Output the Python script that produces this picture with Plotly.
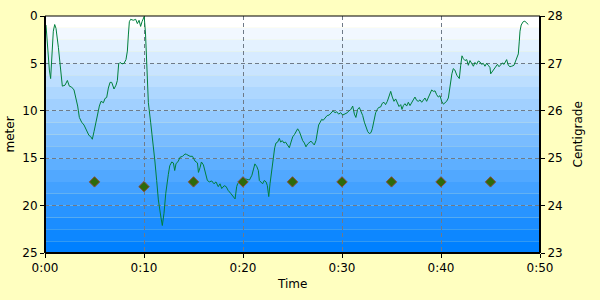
import plotly.graph_objects as go

# ---- data ----
time_min = [0.1, 0.23, 0.44, 0.57, 0.7, 0.84, 0.98, 1.11, 1.35, 1.58, 1.75, 2.02, 2.26, 2.46, 2.69, 2.93,
            3.13, 3.3, 3.47, 3.7, 3.94, 4.2, 4.44, 4.6, 4.78, 4.95, 5.15, 5.32, 5.49, 5.66, 5.9, 6.06,
            6.23, 6.4, 6.57, 6.74, 6.97, 7.17, 7.31, 7.44, 7.58, 7.78, 7.98, 8.18, 8.32, 8.42, 8.52, 8.65,
            8.92, 9.16, 9.33, 9.5, 9.66, 9.8, 9.93, 10.02, 10.15, 10.27, 10.44, 10.67, 10.94, 11.1, 11.28,
            11.45, 11.69, 11.85, 12.02, 12.2, 12.46, 12.6, 12.8, 12.97, 13.1, 13.23, 13.47, 13.64, 13.9,
            14.14, 14.3, 14.65, 14.9, 15.15, 15.4, 15.5, 15.66, 15.8, 16.0, 16.2, 16.4, 16.6, 16.84, 17.07,
            17.27, 17.5, 17.68, 17.85, 18.1, 18.3, 18.5, 18.75, 19.02, 19.2, 19.36, 19.46, 19.63, 19.87,
            20.0, 20.3, 20.5, 20.65, 20.9, 21.04, 21.2, 21.4, 21.55, 21.65, 21.8, 21.98, 22.15, 22.33,
            22.46, 22.6, 22.73, 22.9, 23.06, 23.2, 23.33, 23.5, 23.67, 23.8, 23.97, 24.14, 24.3, 24.48,
            24.68, 24.85, 25.02, 25.2, 25.35, 25.52, 25.7, 25.86, 26.03, 26.2, 26.36, 26.53, 26.7, 26.87,
            27.03, 27.2, 27.37, 27.5, 27.64, 27.8, 27.95, 28.1, 28.3, 28.5, 28.7, 28.9, 29.1, 29.3, 29.46,
            29.66, 29.87, 30.07, 30.3, 30.54, 30.7, 30.87, 31.08, 31.25, 31.4, 31.58, 31.75, 31.92, 32.09,
            32.26, 32.42, 32.6, 32.76, 32.93, 33.06, 33.23, 33.4, 33.57, 33.7, 33.9, 34.07, 34.24, 34.4,
            34.58, 34.75, 34.92, 35.08, 35.25, 35.42, 35.59, 35.76, 35.93, 36.06, 36.2, 36.36, 36.53, 36.7,
            36.87, 37.04, 37.2, 37.37, 37.54, 37.7, 37.88, 38.05, 38.2, 38.38, 38.55, 38.72, 38.9, 39.06,
            39.22, 39.4, 39.56, 39.73, 39.9, 40.07, 40.24, 40.4, 40.57, 40.74, 40.84, 40.98, 41.1, 41.24,
            41.4, 41.6, 41.75, 41.85, 41.99, 42.12, 42.26, 42.42, 42.6, 42.76, 42.93, 43.1, 43.27, 43.43,
            43.6, 43.77, 43.94, 44.1, 44.28, 44.44, 44.6, 44.78, 44.95, 45.02, 45.2, 45.36, 45.52, 45.7,
            45.86, 46.03, 46.2, 46.37, 46.53, 46.63, 46.8, 46.97, 47.14, 47.37, 47.5, 47.64, 47.81, 47.91,
            47.98, 48.1, 48.3, 48.47, 48.64, 48.82]
depth_m = [0.95, 3.0, 5.7, 6.6, 4.7, 1.6, 0.9, 1.3, 3.3, 5.7, 7.4, 7.3, 6.8, 7.4, 7.5, 7.8,
           8.6, 9.5, 10.7, 11.2, 11.5, 12.1, 12.6, 12.7, 13.0, 12.2, 11.2, 10.2, 9.5, 9.0, 9.15, 8.7,
           8.6, 7.6, 7.0, 7.0, 7.7, 7.3, 6.8, 5.05, 4.9, 5.05, 5.0, 4.6, 3.7, 2.0, 0.6, 0.35,
           0.45, 0.35, 0.8, 0.45, 1.1, 0.6, 0.27, 0.05, 1.8, 5.05, 9.15, 11.2, 13.6, 15.3, 17.35,
           19.4, 21.1, 22.1, 20.8, 18.7, 16.7, 15.8, 15.4, 15.5, 16.3, 15.6, 15.3, 14.9, 14.8,
           14.55, 14.6, 14.8, 14.8, 15.3, 15.5, 16.5, 16.0, 15.4, 15.7, 16.5, 17.35, 17.5, 17.4, 17.7,
           17.5, 18.0, 17.7, 18.2, 17.9, 18.0, 18.4, 18.7, 19.05, 19.3, 18.0, 17.7, 17.5, 17.35,
           17.3, 17.2, 17.25, 17.3, 16.8, 16.15, 15.6, 15.9, 16.3, 17.35, 17.5, 17.7, 17.35, 17.5,
           17.9, 19.05, 17.7, 16.3, 15.1, 13.9, 13.4, 13.3, 12.9, 13.3, 13.15, 13.4, 13.3, 13.6,
           13.9, 13.3, 12.75, 12.5, 12.2, 11.9, 12.2, 12.75, 13.15, 13.4, 13.8, 13.5, 13.3, 13.2,
           13.4, 13.6, 13.15, 12.2, 11.5, 11.2, 10.9, 11.0, 10.8, 10.5, 10.45, 10.25, 10.0, 10.2, 10.1,
           10.35, 10.2, 10.45, 10.35, 10.2, 10.0, 9.9, 9.5, 10.35, 10.7, 9.85, 9.65, 10.0, 10.5,
           11.2, 11.7, 12.2, 12.4, 12.3, 11.9, 10.85, 10.2, 9.85, 9.65, 9.6, 9.2, 9.1, 9.35,
           9.0, 8.55, 7.95, 8.55, 9.0, 8.75, 9.2, 9.55, 9.35, 9.85, 9.45, 9.25, 9.5, 9.1,
           9.45, 9.2, 8.85, 8.55, 8.9, 9.0, 8.85, 9.1, 8.9, 8.65, 9.0, 8.65, 8.3, 7.8,
           7.95, 7.9, 8.3, 8.55, 8.4, 9.0, 9.3, 9.15, 9.0, 8.65, 7.8, 6.75, 6.1, 5.55,
           5.7, 6.25, 6.4, 6.6, 5.2, 4.2, 4.5, 4.7, 4.6, 5.2, 4.7, 5.0, 5.3, 4.9,
           5.1, 4.75, 4.85, 5.1, 5.0, 5.3, 5.0, 5.2, 5.45, 6.1, 5.8, 5.55, 5.3, 5.1,
           5.35, 5.1, 4.95, 5.1, 4.75, 4.6, 5.2, 5.35, 5.3, 5.2, 4.85, 4.5, 4.0, 2.65,
           1.6, 0.95, 0.6, 0.55, 0.7, 0.9]

temp_time = [5, 10, 15, 20, 25, 30, 35, 40, 45]
temp_c = [24.5, 24.4, 24.5, 24.5, 24.5, 24.5, 24.5, 24.5, 24.5]

x_tickvals = [0, 10, 20, 30, 40, 50]
x_ticktext = ["0:00", "0:10", "0:20", "0:30", "0:40", "0:50"]

FONT = "DejaVu Sans"

fig = go.Figure()
fig.add_trace(go.Scatter(x=time_min, y=depth_m, mode="lines",
                         line=dict(color="#00803C", width=1), yaxis="y", showlegend=False))
fig.add_trace(go.Scatter(x=temp_time, y=temp_c, mode="markers", yaxis="y2",
                         marker=dict(symbol="diamond", size=8, color="#2D6A0A",
                                     line=dict(color="#8B4A3A", width=1)),
                         showlegend=False))

# gradient bands for plot background
shapes = []
n = 20
for i in range(n):
    f = i / (n - 1)
    r = round(255 * (1 - f))
    g = round(255 - (255 - 128) * f)
    shapes.append(dict(type="rect", xref="x domain", yref="y domain",
                       x0=0, x1=1, y0=1 - (i + 1) / n, y1=1 - i / n,
                       fillcolor=f"rgb({r},{g},255)", line=dict(width=0), layer="below"))
# borders
border = [((0, 0), (0, 1), 2), ((0, 0), (1, 0), 2), ((1, 0), (1, 1), 2), ((0, 1), (1, 1), 1)]
for (x0, y0), (x1, y1), w in border:
    shapes.append(dict(type="line", xref="x domain", yref="y domain", x0=x0, y0=y0, x1=x1, y1=y1,
                       line=dict(color="black", width=w), layer="above"))

grid = dict(showgrid=True, gridcolor="#6E7A88", griddash="4px,3px", gridwidth=1)

fig.update_layout(
    width=600, height=300,
    margin=dict(l=45, r=60, t=9, b=47),
    paper_bgcolor="#FFFFC0", plot_bgcolor="rgba(0,0,0,0)",
    font=dict(family=FONT, size=12, color="black"),
    shapes=shapes,
    xaxis=dict(range=[0, 50], tickvals=x_tickvals, ticktext=x_ticktext, ticks="outside",
               ticklen=4, tickcolor="black", zeroline=False, showline=False, **grid),
    yaxis=dict(range=[25, 0], tickvals=[0, 5, 10, 15, 20, 25], ticks="outside", ticklen=4,
               tickcolor="black", zeroline=False, showline=False, **grid),
    yaxis2=dict(range=[23, 28], overlaying="y", side="right", tickvals=[23, 24, 25, 26, 27, 28],
                ticks="outside", ticklen=4, tickcolor="black", showgrid=False, zeroline=False,
                showline=False),
    annotations=[
        dict(text="meter", xref="paper", yref="paper", x=0, y=0.5, xshift=-36, textangle=-90,
             showarrow=False, xanchor="center", yanchor="middle", font=dict(size=12)),
        dict(text="Centigrade", xref="paper", yref="paper", x=1, y=0.5, xshift=37, textangle=-90,
             showarrow=False, xanchor="center", yanchor="middle", font=dict(size=12)),
        dict(text="Time", xref="paper", yref="paper", x=0.499, y=0, yshift=-31,
             showarrow=False, xanchor="center", yanchor="middle", font=dict(size=12)),
    ],
)

fig.write_html("out.html")
